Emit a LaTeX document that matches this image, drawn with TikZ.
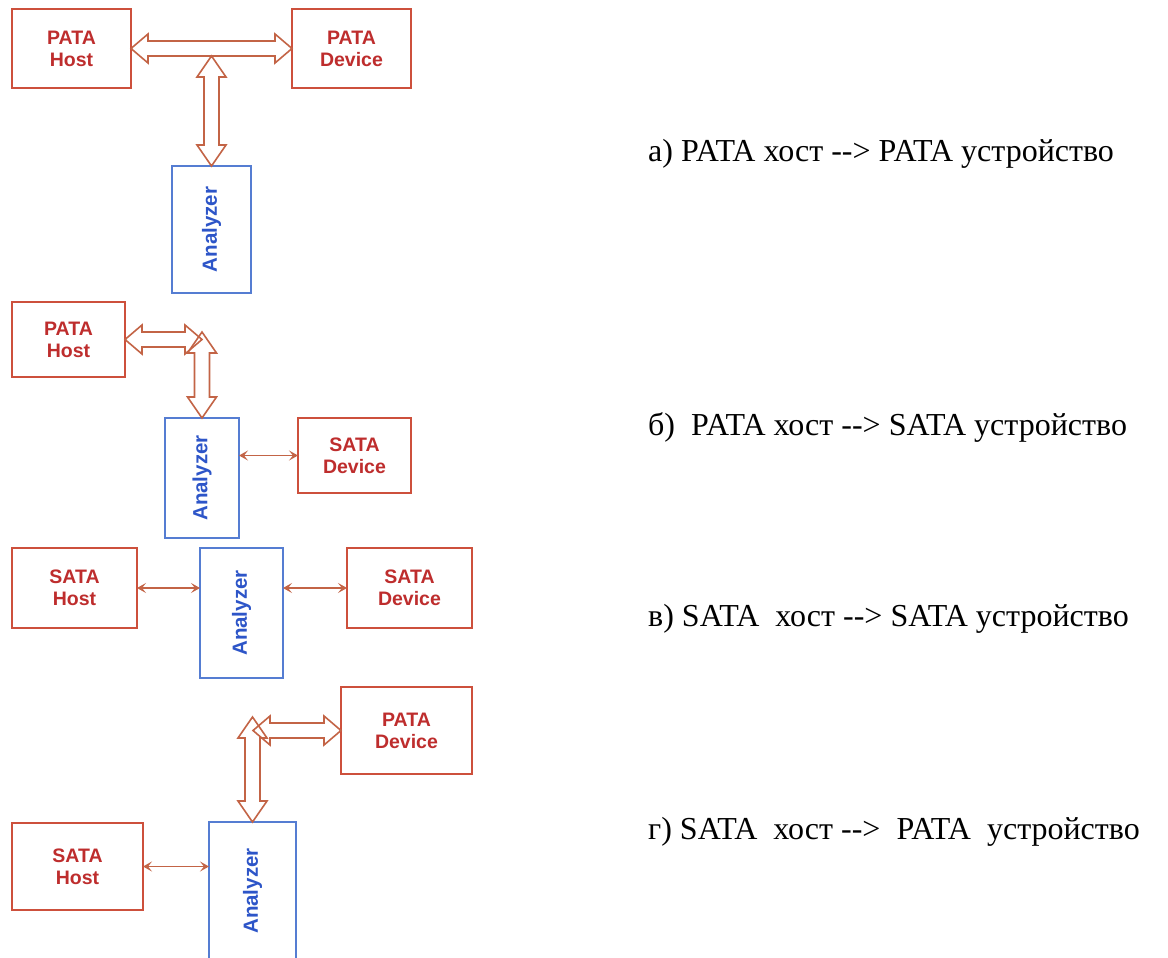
\documentclass[tikz,border=0pt]{standalone}
\usepackage{fontspec}
\usepackage{graphicx}
\setmainfont[Ligatures=NoCommon]{Liberation Serif}
\newfontfamily\boxfont{Liberation Sans}
\usetikzlibrary{arrows.meta,calc}
\definecolor{boxred}{RGB}{205,80,60}
\definecolor{txtred}{RGB}{190,45,45}
\definecolor{boxblue}{RGB}{85,125,210}
\definecolor{txtblue}{RGB}{45,85,200}
\definecolor{arrcol}{RGB}{195,100,70}
\tikzset{
  redbox/.style={draw=boxred, line width=2, fill=white, inner sep=0, outer sep=0,
    align=center, text=txtred, font=\boxfont\bfseries\fontsize{19.5}{22}\selectfont},
  bluebox/.style={draw=boxblue, line width=2, fill=white, inner sep=0, outer sep=0,
    text=txtblue, font=\boxfont\bfseries\fontsize{20.5}{24}\selectfont},
  hollow/.style={draw=arrcol, line width=1.6, line join=miter},
  thinarrow/.style={draw=arrcol, line width=1.6, {Stealth[length=9,width=10,inset=4]}-{Stealth[length=9,width=10,inset=4]}},
  caption/.style={anchor=base west, inner sep=0, font=\fontsize{32}{38}\selectfont}
}
\newcommand\harr[2]{\path[hollow] let \p1=(#1), \p2=(#2) in
  (\x1,\y1) -- (\x1+17pt,\y1+14.5pt) -- (\x1+17pt,\y1+7.5pt) -- (\x2-17pt,\y1+7.5pt)
  -- (\x2-17pt,\y1+14.5pt) -- (\x2,\y1) -- (\x2-17pt,\y1-14.5pt) -- (\x2-17pt,\y1-7.5pt)
  -- (\x1+17pt,\y1-7.5pt) -- (\x1+17pt,\y1-14.5pt) -- cycle;}
\newcommand\varr[2]{\path[hollow] let \p1=(#1), \p2=(#2) in
  (\x1,\y1) -- (\x1+14.5pt,\y1-21pt) -- (\x1+7.5pt,\y1-21pt) -- (\x1+7.5pt,\y2+21pt)
  -- (\x1+14.5pt,\y2+21pt) -- (\x1,\y2) -- (\x1-14.5pt,\y2+21pt) -- (\x1-7.5pt,\y2+21pt)
  -- (\x1-7.5pt,\y1-21pt) -- (\x1-14.5pt,\y1-21pt) -- cycle;}
\newcommand\arr{-\kern0pt-\kern0pt>}
\begin{document}
\begin{tikzpicture}[x=1pt, y=-1pt]
\clip (0,0) rectangle (1168,958);
\fill[white] (0,0) rectangle (1168,958);

% ---- panel a
\node[redbox, minimum width=119, minimum height=79] (AH) at (71.5,48.5) {PATA\\Host};
\node[redbox, minimum width=119, minimum height=79] (AD) at (351.5,48.5) {PATA\\Device};
\node[bluebox, minimum width=79, minimum height=127] (AA) at (211.5,229.5) {\rotatebox{90}{Analyzer}};
\coordinate (aj) at (211.5,56);
\harr{AH.east}{AD.west}
\varr{aj}{AA.north}
\node[caption] (la) at (648,161) {а) PATA хост \arr{} PATA устройство};

% ---- panel b
\node[redbox, minimum width=113, minimum height=75] (BH) at (68.5,339.5) {PATA\\Host};
\node[bluebox, minimum width=74, minimum height=120] (BA) at (202,478) {\rotatebox{90}{Analyzer}};
\node[redbox, minimum width=113, minimum height=75] (BD) at (354.5,455.5) {SATA\\Device};
\coordinate (bj1) at (202,339.5);
\coordinate (bj2) at (202,332);
\harr{BH.east}{bj1}
\varr{bj2}{BA.north}
\draw[thinarrow] (BA.east |- BD.west) -- (BD.west);
\node[caption] (lb) at (648,435) {б)\ \ PATA хост \arr{} SATA устройство};

% ---- panel c
\node[redbox, minimum width=125, minimum height=80] (CH) at (74.5,588) {SATA\\Host};
\node[bluebox, minimum width=83, minimum height=130] (CA) at (241.5,613) {\rotatebox{90}{Analyzer}};
\node[redbox, minimum width=125, minimum height=80] (CD) at (409.5,588) {SATA\\Device};
\draw[thinarrow] (CH.east) -- (CA.west |- CH.east);
\draw[thinarrow] (CA.east |- CD.west) -- (CD.west);
\node[caption] (lc) at (648,626) {в) SATA\ \ хост \arr{} SATA устройство};

% ---- panel d
\node[redbox, minimum width=131, minimum height=87] (DD) at (406.5,730.5) {PATA\\Device};
\node[bluebox, minimum width=87, minimum height=138] (DA) at (252.5,891) {\rotatebox{90}{Analyzer}};
\node[redbox, minimum width=131, minimum height=87] (DH) at (77.5,866.5) {SATA\\Host};
\coordinate (dj1) at (253,730.5);
\coordinate (dj2) at (252.5,717);
\harr{dj1}{DD.west}
\varr{dj2}{DA.north}
\draw[thinarrow] (DH.east) -- (DA.west |- DH.east);
\node[caption] (ld) at (648,839) {г) SATA\ \ хост \arr{}\ \ PATA\ \ устройство};
\end{tikzpicture}
\end{document}
